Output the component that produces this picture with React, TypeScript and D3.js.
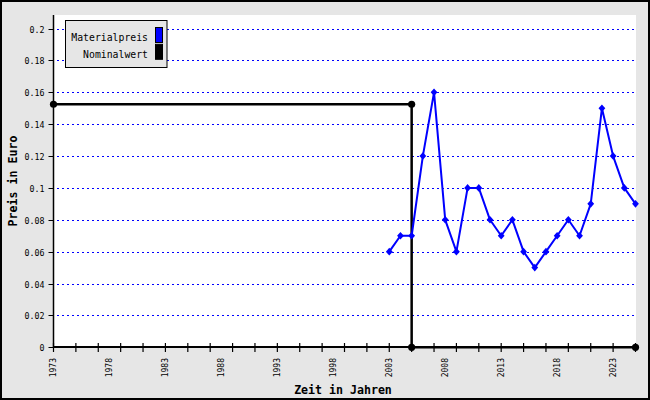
import React from 'react';
import * as d3 from 'd3';

const years = [2003, 2004, 2005, 2006, 2007, 2008, 2009, 2010, 2011, 2012, 2013, 2014, 2015, 2016, 2017, 2018, 2019, 2020, 2021, 2022, 2023, 2024, 2025];
const materialpreis = [0.06, 0.07, 0.07, 0.12, 0.16, 0.08, 0.06, 0.10, 0.10, 0.08, 0.07, 0.08, 0.06, 0.05, 0.06, 0.07, 0.08, 0.07, 0.09, 0.15, 0.12, 0.10, 0.09];
const nominalYears = [1973, 2005, 2005, 2025];
const nominalwert = [0.1525, 0.1525, 0, 0];
const yTicks = [0, 0.02, 0.04, 0.06, 0.08, 0.1, 0.12, 0.14, 0.16, 0.18, 0.2];
const xLabelYears = [1973, 1978, 1983, 1988, 1993, 1998, 2003, 2008, 2013, 2018, 2023];
const legendLabels = ['Materialpreis', 'Nominalwert'];
const legendColors = ['#0000ff', '#000000'];

const W = 650;
const H = 400;
const left = 53.5;
const right = 635.5;
const top = 15;
const bottom = 347.3;

export default function App() {
  const x = d3.scaleLinear().domain([1973, 2025]).range([left, right]);
  const y = d3.scaleLinear().domain([0, 0.2085]).range([bottom, top]);
  const xTicks = d3.range(1973, 2026, 2);

  const matLine = d3.line<number>().x((_, i) => x(years[i])).y((d) => y(d))(materialpreis) || '';
  const nomLine = d3.line<number>().x((_, i) => x(nominalYears[i])).y((d) => y(d))(nominalwert) || '';

  const mono = '"DejaVu Sans Mono", "Liberation Mono", monospace';
  const fmt = (v: number) => String(+v.toFixed(2));
  const yc = (t: number) => Math.round(y(t)) + 0.5;

  return (
    <svg width={W} height={H} style={{ position: 'absolute', left: 0, top: 0, display: 'block' }}>
      <rect x={1} y={1} width={W - 2} height={H - 2} fill="#e6e6e6" stroke="#000" strokeWidth={2} />
      <rect x={53} y={top} width={636 - 53} height={347 - top} fill="#fff" />

      {/* grid */}
      {yTicks.filter((t) => t > 0).map((t) => (
        <line key={'g' + t} x1={57} x2={636} y1={yc(t)} y2={yc(t)}
          stroke="#0000ff" strokeWidth={1} strokeDasharray="2,3" shapeRendering="crispEdges" />
      ))}

      {/* y axis */}
      <line x1={left} x2={left} y1={top} y2={347} stroke="#000" strokeWidth={1.5} />
      {yTicks.map((t) => (
        <g key={'y' + t}>
          <line x1={left - 5} x2={left} y1={yc(t)} y2={yc(t)} stroke="#000" strokeWidth={1} />
          <text x={left - 9} y={yc(t)} textAnchor="end" dominantBaseline="central"
            fontFamily={mono} fontSize={8.3} fill="#000">{fmt(t)}</text>
        </g>
      ))}

      {/* x axis */}
      <line x1={left} x2={right} y1={347} y2={347} stroke="#000" strokeWidth={2} />
      {xTicks.map((t) => (
        <line key={'xt' + t} x1={x(t)} x2={x(t)} y1={347 - 4} y2={347 + 5} stroke="#000" strokeWidth={1.2} />
      ))}
      {xLabelYears.map((t) => (
        <text key={'xl' + t} transform={`translate(${x(t)},358) rotate(-90)`} textAnchor="end" dominantBaseline="central"
          fontFamily={mono} fontSize={8} fill="#000">{t}</text>
      ))}

      {/* axis titles */}
      <text x={343} y={394} textAnchor="middle" fontFamily={mono} fontWeight="bold" fontSize={11.6} fill="#000">Zeit in Jahren</text>
      <text transform="translate(16.5,181) rotate(-90)" textAnchor="middle" fontFamily={mono} fontWeight="bold" fontSize={11.6} fill="#000">Preis in Euro</text>

      {/* Nominalwert */}
      <path d={nomLine} fill="none" stroke="#000" strokeWidth={2.5} />
      {nominalwert.map((v, i) => (
        <circle key={'n' + i} cx={x(nominalYears[i])} cy={y(v)} r={3.6} fill="#000" />
      ))}

      {/* Materialpreis */}
      <path d={matLine} fill="none" stroke="#0000ff" strokeWidth={2} strokeLinejoin="round" />
      {materialpreis.map((v, i) => {
        const cx = x(years[i]);
        const cy = y(v);
        const r = 3.4;
        return <path key={'m' + i} d={`M${cx},${cy - r - 0.4}L${cx + r},${cy}L${cx},${cy + r + 0.4}L${cx - r},${cy}Z`} fill="#0000ff" />;
      })}

      {/* legend */}
      <rect x={65.5} y={20.5} width={101.5} height={47} fill="#e6e6e6" stroke="#000" strokeWidth={1} />
      {legendLabels.map((l, i) => (
        <g key={'lg' + l}>
          <text x={148} y={37.5 + i * 16.5} textAnchor="end" dominantBaseline="central" fontFamily={mono} fontSize={9.8} fill="#000">{l}</text>
          <rect x={155.5} y={27.5 + i * 16.8} width={7} height={15} fill={legendColors[i]} stroke="#000" strokeWidth={1} />
        </g>
      ))}
    </svg>
  );
}
